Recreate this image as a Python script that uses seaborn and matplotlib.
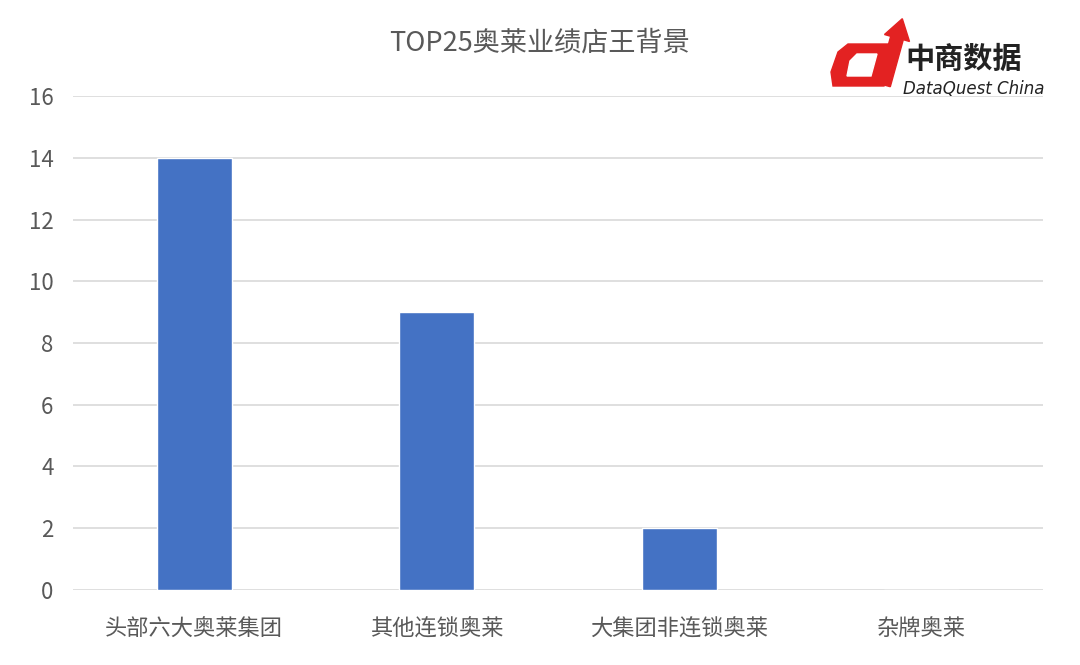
import matplotlib
matplotlib.use("Agg")
import matplotlib.pyplot as plt
import seaborn as sns
import pandas as pd
from matplotlib.patches import Polygon

categories = ["头部六大奥莱集团", "其他连锁奥莱", "大集团非连锁奥莱", "杂牌奥莱"]
counts = [14, 9, 2, 0]
yticks = [0, 2, 4, 6, 8, 10, 12, 14, 16]

sns.set_style("white")
plt.rcParams['font.family'] = ['Noto Sans CJK SC', 'DejaVu Sans']

df = pd.DataFrame({"cat": categories, "n": counts})

fig = plt.figure(figsize=(10.8, 6.65), dpi=100)
ax = fig.add_axes([0.0676, 0.1128, 0.898, 0.7428])

sns.barplot(data=df, x="cat", y="n", color="#4472C4", saturation=1, width=0.31, ax=ax, zorder=3)

ax.set_xlim(-0.5, 3.5)
ax.set_ylim(0, 16)
ax.set_yticks(yticks)
ax.yaxis.grid(True, color="#d9d9d9", linewidth=1.2, zorder=0)
ax.set_axisbelow(True)
for s in ["top", "right", "left", "bottom"]:
    ax.spines[s].set_visible(False)
ax.set_xlabel("")
ax.set_ylabel("")
ax.tick_params(axis="y", length=0, pad=14, labelsize=16, labelcolor="#595959")
ax.tick_params(axis="x", length=0, pad=20, labelsize=16, labelcolor="#595959")

fig.text(0.5, 0.935, "TOP25奥莱业绩店王背景", ha="center", va="center",
         fontsize=19.5, color="#595959")


# logo, top right (pixel coords -> figure fraction)
def px(pts):
    return [(x / 1080, 1 - y / 665) for x, y in pts]


red = "#e32222"
bowl = Polygon(px([(833, 86), (884, 86), (892, 44), (848, 44), (838, 52), (831, 72)]),
               closed=True, transform=fig.transFigure, color=red, zorder=5)
hole = Polygon(px([(847, 76), (871, 76), (877, 54), (857, 54), (850, 61)]),
               closed=True, transform=fig.transFigure, color="white", zorder=6)
arrow = Polygon(px([(877.7, 83.3), (890.3, 86.7), (903.3, 39.7), (909.5, 41.5),
                    (902.3, 18.7), (884.5, 34.5), (890.7, 36.3)]),
                closed=True, transform=fig.transFigure, color=red, zorder=7)
for p in (bowl, hole, arrow):
    fig.patches.append(p)
fig.text(0.838, 0.911, "中商数据", fontsize=21, fontweight="bold", color="#222222",
         ha="left", va="center")
fig.text(0.836, 0.866, "DataQuest China", fontsize=12, fontstyle="italic", color="#222222",
         ha="left", va="center", family=["DejaVu Sans"])

fig.savefig("out.png", dpi=100)
